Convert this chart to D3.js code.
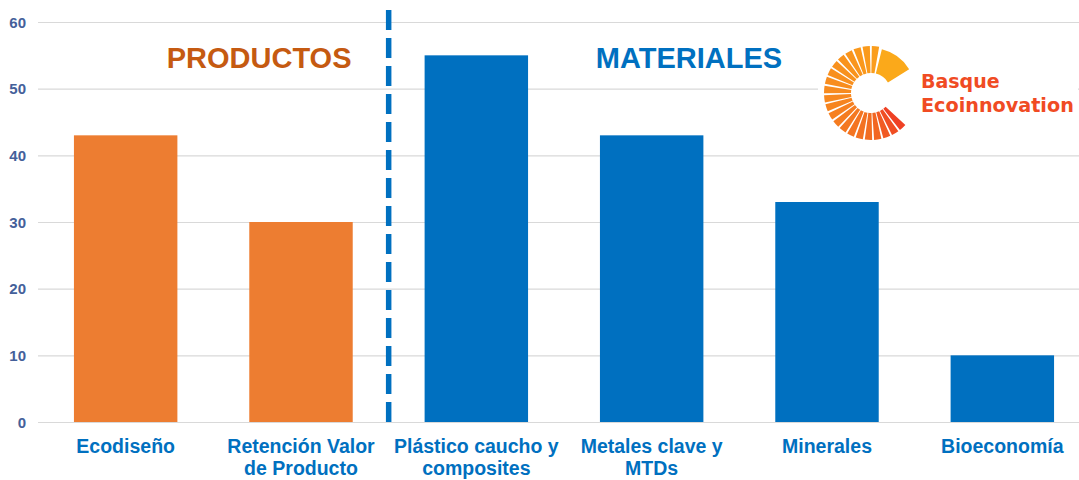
<!DOCTYPE html>
<html>
<head>
<meta charset="utf-8">
<script src="https://cdn.jsdelivr.net/npm/d3@7"></script>
<style>
  html, body { margin: 0; padding: 0; background: #ffffff; }
  svg { display: block; }
</style>
</head>
<body>
<svg id="chart" width="1079" height="480"></svg>
<script>
// ---- data ----
const categories = [
  ["Ecodiseño"],
  ["Retención Valor", "de Producto"],
  ["Plástico caucho y", "composites"],
  ["Metales clave y", "MTDs"],
  ["Minerales"],
  ["Bioeconomía"]
];
const values = [43, 30, 55, 43, 33, 10];
const groups = ["PRODUCTOS", "PRODUCTOS", "MATERIALES", "MATERIALES", "MATERIALES", "MATERIALES"];
const yTicks = [0, 10, 20, 30, 40, 50, 60];
const groupLabels = ["PRODUCTOS", "MATERIALES"];

(function () {
const svg = d3.select("#chart");
const W = 1079;
const plotLeft = 38, plotRight = 1090, plotTop = 22, plotBottom = 422;

const keys = categories.map((c, i) => i);
const x = d3.scaleBand().domain(keys).range([plotLeft, plotRight]).paddingInner(0.41).paddingOuter(0.205);
const y = d3.scaleLinear().domain([0, 60]).range([plotBottom, plotTop]);

const groupColor = { PRODUCTOS: "#ED7D31", MATERIALES: "#0070C0" };
const groupTextColor = { PRODUCTOS: "#C55A11", MATERIALES: "#0070C0" };

// gridlines
svg.append("g").selectAll("line").data(yTicks).join("line")
  .attr("x1", plotLeft).attr("x2", W)
  .attr("y1", d => y(d) + 0.5).attr("y2", d => y(d) + 0.5)
  .attr("stroke", "#D9D9D9").attr("stroke-width", 1.2);

// y axis labels
const yAxis = d3.axisLeft(y).tickValues(yTicks).tickSize(0).tickPadding(0);
const ya = svg.append("g").attr("transform", "translate(26,0)").call(yAxis);
ya.select(".domain").remove();
ya.selectAll("text")
  .attr("font-family", "Liberation Sans, Arial, sans-serif")
  .attr("font-weight", "bold").attr("font-size", 15)
  .attr("fill", "#44609A").attr("dy", "0.35em");

// bars
svg.append("g").selectAll("rect").data(values).join("rect")
  .attr("x", (d, i) => x(i))
  .attr("width", x.bandwidth())
  .attr("y", d => y(d))
  .attr("height", d => y(0) - y(d))
  .attr("fill", (d, i) => groupColor[groups[i]]);

// category labels
const xl = svg.append("g").selectAll("text").data(categories).join("text")
  .attr("x", (d, i) => x(i) + x.bandwidth() / 2)
  .attr("y", 453)
  .attr("text-anchor", "middle")
  .attr("font-family", "Liberation Sans, Arial, sans-serif")
  .attr("font-weight", "bold").attr("font-size", 19.5)
  .attr("fill", "#0070C0");
xl.selectAll("tspan").data(d => d).join("tspan")
  .attr("x", function () { return d3.select(this.parentNode).attr("x"); })
  .attr("dy", (d, j) => j === 0 ? 0 : 22)
  .text(d => d);

// divider dashed line between groups
const divX = (x(1) + x.bandwidth() + x(2)) / 2;
svg.append("line")
  .attr("x1", divX).attr("x2", divX)
  .attr("y1", 10).attr("y2", plotBottom)
  .attr("stroke", "#0070C0").attr("stroke-width", 5.5)
  .attr("stroke-dasharray", "20 8");

// group titles
groupLabels.forEach(g => {
  const idx = keys.filter(i => groups[i] === g);
  const cx = x(idx[1]) + x.bandwidth() * (g === "PRODUCTOS" ? 0.095 : 0.86);
  svg.append("text")
    .attr("x", cx).attr("y", 68)
    .attr("text-anchor", "middle")
    .attr("font-family", "Liberation Sans, Arial, sans-serif")
    .attr("font-weight", "bold").attr("font-size", 29)
    .attr("fill", groupTextColor[g])
    .text(g);
});

// logo
const logo = svg.append("g");
logo.append("rect").attr("x", 818).attr("y", 24).attr("width", 260).attr("height", 119)
  .attr("fill", "#ffffff");
const lc = [871, 93];
const lg = logo.append("g").attr("transform", `translate(${lc[0]},${lc[1]})`);
const colorAt = d3.scaleLinear()
  .domain([60, 0, -90, -180, -225])
  .range(["#FBA91A", "#FA9A1C", "#F7891F", "#F26A22", "#EE3A24"]);
const arc = d3.arc();
lg.append("path")
  .attr("d", arc({ innerRadius: 20, outerRadius: 45, startAngle: 14 * Math.PI / 180, endAngle: 58 * Math.PI / 180 }))
  .attr("fill", "#FBA91A");
const step = 11.4;
for (let a = 10; a >= -222; a -= step) {
  lg.append("path")
    .attr("d", arc({ innerRadius: 20, outerRadius: 47, startAngle: (a - 9) * Math.PI / 180, endAngle: a * Math.PI / 180 }))
    .attr("fill", colorAt(a));
}
logo.append("text").attr("x", 921).attr("y", 88)
  .attr("font-family", "DejaVu Sans, sans-serif").attr("font-weight", "bold")
  .attr("font-size", 19).attr("fill", "#F04B23").text("Basque");
logo.append("text").attr("x", 921).attr("y", 112)
  .attr("font-family", "DejaVu Sans, sans-serif").attr("font-weight", "bold")
  .attr("font-size", 19.2).attr("fill", "#F04B23").text("Ecoinnovation");
})();
</script>
</body>
</html>
